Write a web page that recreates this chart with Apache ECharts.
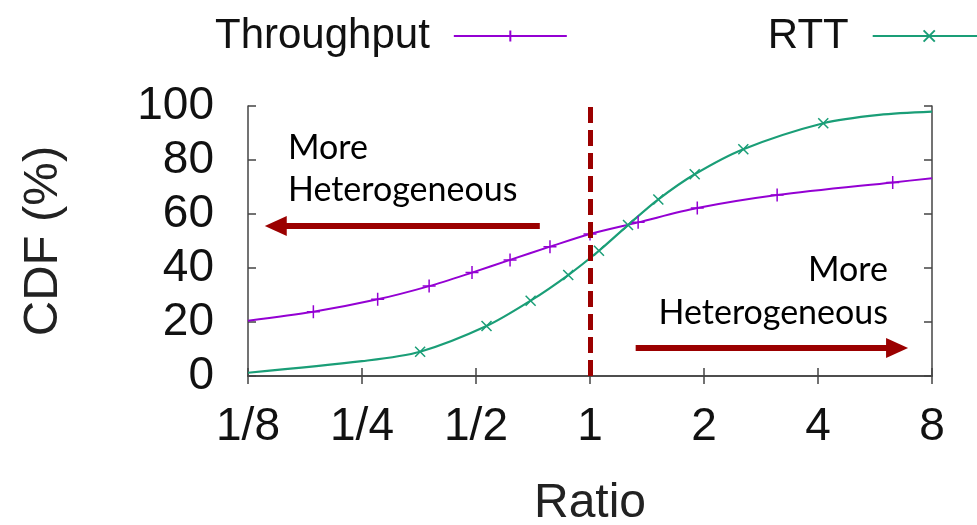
<!DOCTYPE html>
<html>
<head>
<meta charset="utf-8">
<script src="https://cdn.jsdelivr.net/npm/echarts@6/dist/echarts.min.js"></script>
<style>
  html, body { margin: 0; padding: 0; background: #fff; }
  #main { width: 977px; height: 525px; }
</style>
</head>
<body>
<div id="main"></div>
<script>
// x ticks (ratio, log2 scale)
var xTicks = [0.125, 0.25, 0.5, 1, 2, 4, 8];
var xTickLabels = ['1/8', '1/4', '1/2', '1', '2', '4', '8'];

// Throughput CDF, marker flags (1 = "+" drawn)
var tputRatio = [0.125, 0.186, 0.275, 0.376, 0.488, 0.615, 0.784, 1.0, 1.34, 1.92, 3.12, 6.3, 8];
var tputCdf   = [20.5, 23.8, 28.4, 33.3, 38.3, 43.0, 47.9, 52.6, 56.9, 62.2, 67.0, 71.7, 73.2];
var tputMark  = [0, 1, 1, 1, 1, 1, 1, 1, 1, 1, 1, 1, 0];

// RTT CDF
var rttRatio = [0.125, 0.25, 0.356, 0.533, 0.697, 0.876, 1.056, 1.26, 1.515, 1.89, 2.54, 4.13, 5.8, 8];
var rttCdf   = [1.2, 5.5, 9.0, 18.5, 27.9, 37.4, 46.4, 55.9, 65.4, 74.7, 84.0, 93.6, 96.7, 97.9];
var rttMark  = [0, 0, 1, 1, 1, 1, 1, 1, 1, 1, 1, 1, 0, 0];

var purple = '#9400d3';
var green = '#1a9e77';
var darkRed = '#9b0000';

function pts(xs, ys, marks) {
    return xs.map(function (x, i) {
        var d = { value: [x, ys[i]] };
        if (!marks[i]) d.symbol = 'none';
        return d;
    });
}

function ratioLabel(v) {
    for (var i = 0; i < xTicks.length; i++) {
        if (Math.abs(v - xTicks[i]) < 1e-6) return xTickLabels[i];
    }
    return '';
}

var myChart = echarts.init(document.getElementById('main'));

var axisLine = { show: true, lineStyle: { color: '#444', width: 1.5 } };
var tick = { show: true, inside: true, length: 8, lineStyle: { color: '#444', width: 1.5 } };
var font = 'Liberation Sans, Arial, sans-serif';
var noteFont = '34px Lato, "Open Sans", sans-serif';

option = {
    animation: false,
    grid: { left: 248, right: 45, top: 106, bottom: 149, outerBoundsMode: 'none' },
    legend: {
        left: 210,
        top: 10,
        align: 'right',
        itemWidth: 113,
        itemHeight: 14,
        itemGap: 200,
        textStyle: { fontFamily: font, fontSize: 42, color: '#111', padding: [0, 19, 0, 0] },
        data: ['Throughput', 'RTT']
    },
    xAxis: [
        {
            type: 'log', logBase: 2, min: 0.125, max: 8, interval: 1,
            position: 'bottom',
            axisLine: axisLine, axisTick: tick, splitLine: { show: false },
            axisLabel: { formatter: ratioLabel, fontFamily: font, fontSize: 46, color: '#111', margin: 28 },
            name: 'Ratio', nameLocation: 'middle', nameGap: 104,
            nameTextStyle: { fontFamily: font, fontSize: 48, color: '#222' }
        },
        {
            type: 'log', logBase: 2, min: 0.125, max: 8, interval: 1,
            position: 'top',
            axisLine: axisLine, axisTick: tick, splitLine: { show: false },
            axisLabel: { show: false }
        }
    ],
    yAxis: [
        {
            type: 'value', min: 0, max: 100, interval: 20,
            axisLine: axisLine, axisTick: tick, splitLine: { show: false },
            axisLabel: { fontFamily: font, fontSize: 46, color: '#111', margin: 34 },
            name: 'CDF (%)', nameLocation: 'middle', nameGap: 180, nameRotate: 90,
            nameTextStyle: { fontFamily: font, fontSize: 49, color: '#222' }
        },
        {
            type: 'value', min: 0, max: 100, interval: 20, position: 'right',
            axisLine: axisLine, axisTick: tick, splitLine: { show: false },
            axisLabel: { show: false }
        }
    ],
    series: [
        {
            name: 'Throughput',
            type: 'line',
            smooth: 0.3,
            symbol: 'path://M5,0 L5,10 M0,5 L10,5',
            symbolSize: 13,
            itemStyle: { color: purple, borderColor: purple, borderWidth: 1.5 },
            lineStyle: { color: purple, width: 2 },
            data: pts(tputRatio, tputCdf, tputMark)
        },
        {
            name: 'RTT',
            type: 'line',
            smooth: 0.3,
            symbol: 'path://M0,0 L10,10 M10,0 L0,10',
            symbolSize: 10,
            itemStyle: { color: green, borderColor: green, borderWidth: 1.5 },
            lineStyle: { color: green, width: 2.2 },
            data: pts(rttRatio, rttCdf, rttMark),
            markLine: {
                silent: true,
                z: 10,
                label: { show: false },
                data: [
                    [
                        { coord: [1, 0], symbol: 'none' },
                        { coord: [1, 100], symbol: 'none', lineStyle: { color: darkRed, width: 5, type: [16, 7] } }
                    ],
                    [
                        { coord: [0.737, 55.6], symbol: 'none' },
                        { coord: [0.148, 55.6], symbol: 'triangle', symbolSize: [20, 22], lineStyle: { color: darkRed, width: 6, type: 'solid' } }
                    ],
                    [
                        { coord: [1.32, 10.4], symbol: 'none' },
                        { coord: [6.47, 10.4], symbol: 'triangle', symbolSize: [20, 22], lineStyle: { color: darkRed, width: 6, type: 'solid' } }
                    ]
                ],
                lineStyle: { color: darkRed, width: 5 },
                itemStyle: { color: darkRed }
            }
        }
    ],
    graphic: [
        { type: 'text', left: 288, top: 131, style: { text: 'More', font: noteFont, fill: '#000' } },
        { type: 'text', left: 288, top: 173, style: { text: 'Heterogeneous', font: noteFont, fill: '#000' } },
        { type: 'text', right: 89, top: 253, style: { text: 'More', font: noteFont, fill: '#000' } },
        { type: 'text', right: 89, top: 296, style: { text: 'Heterogeneous', font: noteFont, fill: '#000' } }
    ]
};

myChart.setOption(option);
</script>
</body>
</html>
